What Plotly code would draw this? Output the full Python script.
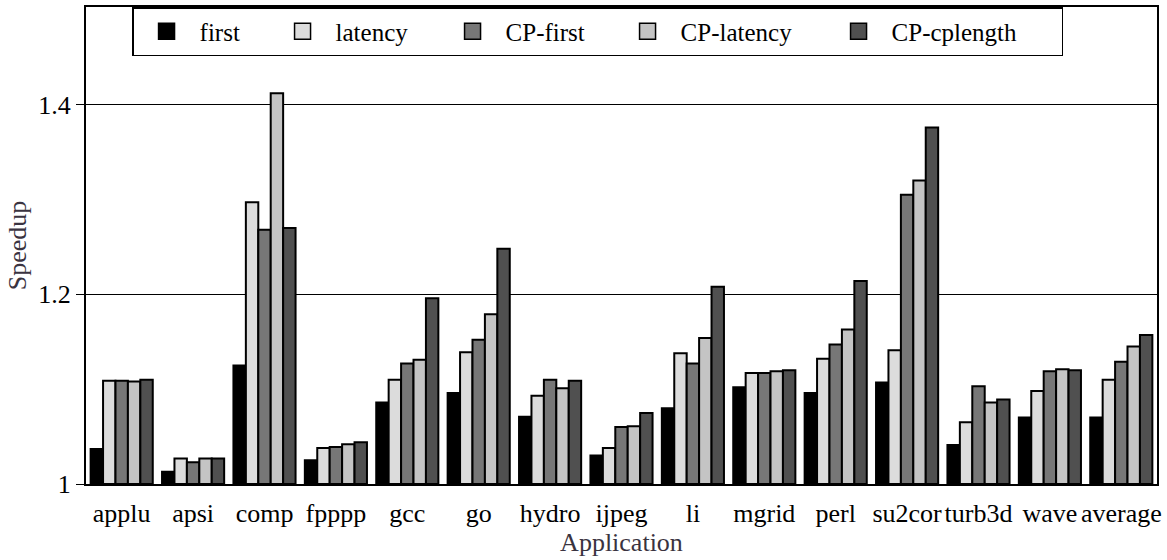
import plotly.graph_objects as go

categories = ["applu", "apsi", "comp", "fpppp", "gcc", "go", "hydro", "ijpeg",
              "li", "mgrid", "perl", "su2cor", "turb3d", "wave", "average"]

first      = [1.037, 1.013, 1.125, 1.025, 1.086, 1.096, 1.071, 1.030, 1.080, 1.102, 1.096, 1.107, 1.041, 1.070, 1.070]
latency    = [1.109, 1.027, 1.297, 1.038, 1.110, 1.139, 1.093, 1.038, 1.138, 1.117, 1.132, 1.141, 1.065, 1.098, 1.110]
cp_first   = [1.109, 1.023, 1.268, 1.039, 1.127, 1.152, 1.110, 1.060, 1.127, 1.117, 1.147, 1.305, 1.103, 1.119, 1.129]
cp_latency = [1.108, 1.027, 1.412, 1.042, 1.131, 1.179, 1.101, 1.061, 1.154, 1.119, 1.163, 1.320, 1.086, 1.121, 1.145]
cp_cplen   = [1.110, 1.027, 1.270, 1.044, 1.196, 1.248, 1.109, 1.075, 1.208, 1.120, 1.214, 1.376, 1.089, 1.120, 1.157]

series_names = ["first", "latency", "CP-first", "CP-latency", "CP-cplength"]
series_values = [first, latency, cp_first, cp_latency, cp_cplen]
series_colors = ["#000000", "#dcdcdc", "#777777", "#c4c4c4", "#505050"]
legend_widths = [65, 99, 104, 140, 165]

font_family = "Liberation Serif"

fig = go.Figure()
for name, vals, color in zip(series_names, series_values, series_colors):
    fig.add_trace(go.Bar(
        x=categories, y=[v - 1 for v in vals], base=1, name=name,
        marker=dict(color=color, line=dict(color="black", width=2)),
        showlegend=False,
    ))
# legend entries (square swatches)
for name, color, lw in zip(series_names, series_colors, legend_widths):
    fig.add_trace(go.Scatter(
        x=[None], y=[None], mode="markers", name=name,
        marker=dict(symbol="square", size=16, color=color,
                    line=dict(color="black", width=1.5)),
        legendwidth=lw, showlegend=True,
    ))

fig.update_layout(
    width=1167, height=560,
    margin=dict(l=86, r=10, t=5, b=76),
    paper_bgcolor="white", plot_bgcolor="white",
    barmode="group", bargap=0.13, bargroupgap=0,
    font=dict(family=font_family, size=26, color="black"),
    showlegend=True,
    legend=dict(
        orientation="h", x=0.043, y=1, xanchor="left", yanchor="top",
        bordercolor="black", borderwidth=1.5, bgcolor="white",
        font=dict(family=font_family, size=25, color="black"),
        itemwidth=56,
    ),
    xaxis=dict(
        showline=True, linecolor="black", linewidth=2, mirror=True,
        ticks="", showgrid=False, ticklabelstandoff=5,
        tickfont=dict(family=font_family, size=26, color="black"),
        title=dict(text="Application", standoff=2,
                   font=dict(family=font_family, size=26, color="#3a3340")),
    ),
    yaxis=dict(
        range=[1, 1.503], tickvals=[1, 1.2, 1.4], ticktext=["1", "1.2", "1.4"],
        showline=True, linecolor="black", linewidth=2, mirror=True,
        ticks="outside", ticklen=8, tickcolor="black", tickwidth=1,
        showgrid=True, gridcolor="black", gridwidth=1, zeroline=False,
        tickfont=dict(family=font_family, size=26, color="black"),
        title=dict(text="Speedup", standoff=4,
                   font=dict(family=font_family, size=26, color="#3a3340")),
    ),
)

fig.write_html("out.html")
